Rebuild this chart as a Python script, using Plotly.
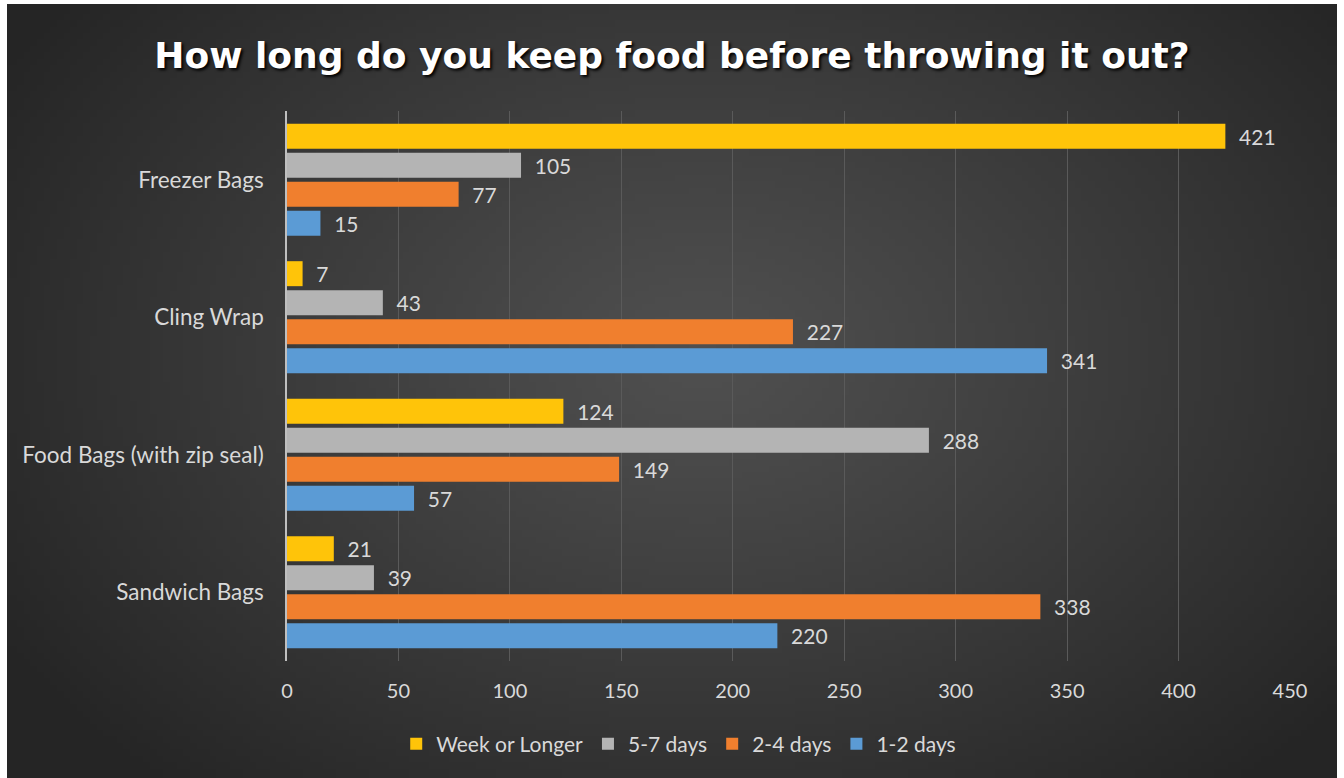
import base64, struct, zlib
import numpy as np
import plotly.graph_objects as go

# ---- data ----
categories = ["Sandwich Bags", "Food Bags (with zip seal)", "Cling Wrap", "Freezer Bags"]
days_1_2 = [220, 57, 341, 15]
days_2_4 = [338, 149, 227, 77]
days_5_7 = [39, 288, 43, 105]
week_or_longer = [21, 124, 7, 421]
x_ticks = [0, 50, 100, 150, 200, 250, 300, 350, 400, 450]

series = [
    ("1-2 days", days_1_2, "#5B9BD5"),
    ("2-4 days", days_2_4, "#F07F2E"),
    ("5-7 days", days_5_7, "#B4B4B4"),
    ("Week or Longer", week_or_longer, "#FFC409"),
]

# ---- radial gradient background image ----
def gradient_uri(w=200, h=120):
    yy, xx = np.mgrid[0:h, 0:w].astype(float)
    cx, cy = w * 0.52, h * 0.45
    d = np.sqrt(((xx - cx) / (w * 0.62)) ** 2 + ((yy - cy) / (h * 0.75)) ** 2)
    d = np.clip(d, 0, 1) ** 1.1
    c0, c1 = np.array([80, 80, 80]), np.array([37, 37, 37])
    img = (c0[None, None, :] + (c1 - c0)[None, None, :] * d[:, :, None]).astype(np.uint8)
    raw = b"".join(b"\x00" + img[r].tobytes() for r in range(h))
    def chunk(t, data):
        c = struct.pack(">I", len(data)) + t + data
        return c + struct.pack(">I", zlib.crc32(t + data) & 0xffffffff)
    png = b"\x89PNG\r\n\x1a\n" + chunk(b"IHDR", struct.pack(">IIBBBBB", w, h, 8, 2, 0, 0, 0)) \
        + chunk(b"IDAT", zlib.compress(raw, 9)) + chunk(b"IEND", b"")
    return "data:image/png;base64," + base64.b64encode(png).decode()

W, H = 1344, 778
ml, mr, mt, mb = 287, 54, 111, 117
pw, ph = W - ml - mr, H - mt - mb

fig = go.Figure()
for name, vals, col in series:
    fig.add_trace(go.Bar(
        y=categories, x=vals, name=name, orientation="h",
        marker=dict(color=col, line=dict(width=0)),
        text=vals, texttemplate="  %{x}", textposition="outside",
        textfont=dict(color="#D9D9D9", size=21, family="Lato"),
        cliponaxis=False,
    ))

fig.update_layout(
    width=W, height=H,
    margin=dict(l=ml, r=mr, t=mt, b=mb, autoexpand=False),
    paper_bgcolor="white",
    plot_bgcolor="rgba(0,0,0,0)",
    barmode="group", bargap=0.155, bargroupgap=0.14,
    font=dict(family="Lato", color="#D9D9D9", size=21),
    title=dict(
        text="<b>How long do you keep food before throwing it out?</b>",
        x=0.5, xref="container", xanchor="center",
        y=1 - 55 / H, yref="container", yanchor="middle",
        font=dict(family="DejaVu Sans", size=36, color="white", shadow="2px 2px 3px #000000"),
    ),
    xaxis=dict(
        range=[0, 450], tickvals=x_ticks, showgrid=True, gridcolor="#5A5A5A", gridwidth=1,
        zeroline=False, showline=False, ticks="", ticklabelstandoff=16,
        tickfont=dict(size=20, color="#D9D9D9"),
    ),
    yaxis=dict(
        showgrid=False, showline=True, linecolor="#BFBFBF", linewidth=1.5,
        ticks="", ticklabelstandoff=17, tickfont=dict(size=22.5, color="#D9D9D9"),
    ),
    legend=dict(
        orientation="h", traceorder="reversed", x=0.505, xref="container", xanchor="center",
        y=1 - 744 / H, yref="container", yanchor="middle",
        font=dict(size=21, color="#D9D9D9"), itemwidth=30, bgcolor="rgba(0,0,0,0)",
    ),
    images=[dict(
        source=gradient_uri(), xref="paper", yref="paper",
        x=(7 - ml) / pw, y=1 + (mt - 4) / ph, sizex=1330 / pw, sizey=774 / ph,
        xanchor="left", yanchor="top", sizing="stretch", layer="below",
    )],
)

fig.write_html("out.html")
